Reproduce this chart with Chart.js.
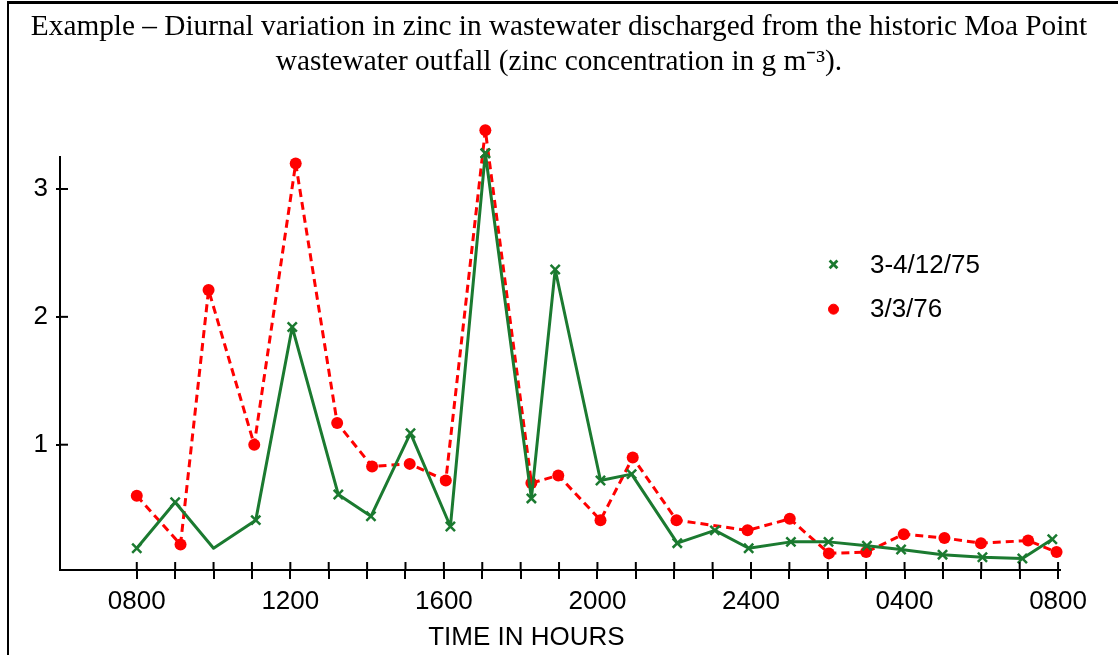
<!DOCTYPE html>
<html>
<head>
<meta charset="utf-8">
<script src="https://cdn.jsdelivr.net/npm/chart.js@4.4.1/dist/chart.umd.min.js"></script>
<style>
  html, body { margin: 0; padding: 0; background: #fff; }
  #wrap { position: relative; width: 1118px; height: 655px; overflow: hidden; }
  #frame { position: absolute; left: 7px; top: 1px; width: 1200px; height: 700px;
           border-left: 2px solid #000; border-top: 3px solid #000; }
  #zinc-chart { position: absolute; left: 0; top: 0; }
</style>
</head>
<body>
<div id="wrap">
  <div id="frame"></div>
  <canvas id="zinc-chart" width="1118" height="655"></canvas>
</div>
<script>
// Diurnal zinc in Moa Point outfall wastewater, two sampling runs
// x = clock hour counted from midnight of day 1 (so 0800 next day = 32)
const greenHours = [8.0, 9.0, 10.0, 11.1, 12.05, 13.25, 14.1, 15.13, 16.17, 17.08, 18.28, 18.9,
  20.08, 20.89, 22.08, 23.06, 23.94, 25.04, 26.02, 27.02, 27.91, 28.99, 30.03, 31.07, 31.85];
const greenZinc = [0.19, 0.55, 0.19, 0.41, 1.92, 0.61, 0.44, 1.09, 0.36, 3.28, 0.58, 2.37,
  0.72, 0.77, 0.23, 0.33, 0.19, 0.24, 0.24, 0.21, 0.18, 0.14, 0.12, 0.11, 0.26];
// third vertex of the 1975 run has no marker in the original
const greenMarked = [1, 1, 0, 1, 1, 1, 1, 1, 1, 1, 1, 1, 1, 1, 1, 1, 1, 1, 1, 1, 1, 1, 1, 1, 1];

const redHours = [8.0, 9.14, 9.87, 11.06, 12.14, 13.22, 14.13, 15.11, 16.05, 17.08, 18.28, 18.98,
  20.08, 20.92, 22.06, 23.91, 25.01, 26.03, 27.0, 27.98, 29.04, 29.99, 31.22, 31.96];
const redZinc = [0.60, 0.22, 2.21, 1.00, 3.20, 1.17, 0.83, 0.85, 0.72, 3.46, 0.70, 0.76,
  0.41, 0.90, 0.41, 0.33, 0.42, 0.15, 0.16, 0.30, 0.27, 0.23, 0.25, 0.16];

const seriesNames = ['3-4/12/75', '3/3/76'];
const tickHours = [8, 9, 10, 11, 12, 13, 14, 15, 16, 17, 18, 19, 20, 21, 22, 23, 24, 25, 26, 27, 28, 29, 30, 31, 32];
const labelHours = [8, 12, 16, 20, 24, 28, 32];
const labelTexts = ['0800', '1200', '1600', '2000', '2400', '0400', '0800'];
const yTicks = [1, 2, 3];

const GREEN = '#1b7a30';
const RED = '#ff0000';
const SANS = "'Liberation Sans', Arial, sans-serif";

(function() {
  const pts = (xs, ys) => xs.map((h, i) => ({ x: h, y: ys[i] }));

  // inward half of the crossing ticks, the x title and the in-plot legend
  const overlay = {
    id: 'overlay',
    afterDatasetsDraw(chart) {
      // points above the axis top (the 1700 peak) are skipped by Chart.js, draw them here
      const whole = { left: 0, top: 0, right: chart.width, bottom: chart.height };
      chart.data.datasets.forEach((ds, i) => {
        chart.getDatasetMeta(i).data.forEach(el => {
          if (el.y < chart.chartArea.top) el.draw(chart.ctx, whole);
        });
      });
    },
    afterDraw(chart) {
      const { ctx, chartArea: a, scales: { x, y } } = chart;
      ctx.save();
      ctx.strokeStyle = '#000';
      ctx.lineWidth = 2;
      tickHours.forEach(h => {
        const px = x.getPixelForValue(h);
        ctx.beginPath(); ctx.moveTo(px, a.bottom); ctx.lineTo(px, a.bottom - 8); ctx.stroke();
      });
      yTicks.forEach(v => {
        const py = y.getPixelForValue(v);
        ctx.beginPath(); ctx.moveTo(a.left, py); ctx.lineTo(a.left + 8, py); ctx.stroke();
      });

      ctx.fillStyle = '#000';
      ctx.font = '26px ' + SANS;
      ctx.textAlign = 'center';
      ctx.textBaseline = 'middle';
      ctx.fillText('TIME IN HOURS', x.getPixelForValue(18.15), a.bottom + 68);

      // legend
      const mx = x.getPixelForValue(26.15), tx = x.getPixelForValue(27.1);
      const rows = [
        { y: y.getPixelForValue(2.41), style: 'crossRot', r: 5.5, color: GREEN, w: 2.8 },
        { y: y.getPixelForValue(2.06), style: 'circle', r: 5, color: RED, w: 1 }
      ];
      rows.forEach((row, i) => {
        ctx.strokeStyle = row.color;
        ctx.fillStyle = row.color;
        ctx.lineWidth = row.w;
        Chart.helpers.drawPoint(ctx, { pointStyle: row.style, radius: row.r, rotation: 0, borderWidth: row.w }, mx, row.y);
        ctx.fillStyle = '#000';
        ctx.textAlign = 'left';
        ctx.fillText(seriesNames[i], tx, row.y + 1);
      });
      ctx.restore();
    }
  };

  new Chart(document.getElementById('zinc-chart'), {
    type: 'scatter',
    data: {
      datasets: [
        {
          label: seriesNames[0],
          data: pts(greenHours, greenZinc),
          showLine: true,
          clip: false,
          borderColor: GREEN,
          backgroundColor: GREEN,
          borderWidth: 3,
          borderJoinStyle: 'round',
          pointStyle: 'crossRot',
          pointRadius: greenMarked.map(m => m ? 6.5 : 0),
          pointBorderWidth: 2.5,
          tension: 0,
          order: 1
        },
        {
          label: seriesNames[1],
          data: pts(redHours, redZinc),
          showLine: true,
          clip: false,
          borderColor: RED,
          backgroundColor: RED,
          borderWidth: 3,
          borderDash: [8, 5],
          borderJoinStyle: 'round',
          pointStyle: 'circle',
          pointRadius: 6,
          pointBorderWidth: 0,
          tension: 0,
          order: 2
        }
      ]
    },
    options: {
      responsive: false,
      animation: false,
      layout: { padding: 0 },
      plugins: {
        legend: { display: false },
        tooltip: { enabled: false },
        title: {
          display: true,
          text: ['Example \u2013 Diurnal variation in zinc in wastewater discharged from the historic Moa Point',
                 'wastewater outfall (zinc concentration in g m\u207B\u00B3).'],
          color: '#000',
          font: { family: "'Liberation Serif', 'Times New Roman', serif", size: 29.3, weight: 'normal', lineHeight: 1.195 },
          padding: { top: 10, bottom: 77 }
        }
      },
      scales: {
        x: {
          type: 'linear',
          min: 6,
          max: 32.05,
          afterFit: s => { s.height = 85; },
          afterBuildTicks: s => { s.ticks = tickHours.map(v => ({ value: v })); },
          border: { display: true, color: '#000', width: 2 },
          grid: { drawOnChartArea: false, drawTicks: true, tickLength: 9, color: '#000', lineWidth: 2 },
          ticks: {
            autoSkip: false,
            maxRotation: 0,
            padding: 7,
            color: '#000',
            font: { family: SANS, size: 26 },
            callback: v => {
              const i = labelHours.indexOf(v);
              return i >= 0 ? labelTexts[i] : '';
            }
          }
        },
        y: {
          min: 0.02,
          max: 3.25,
          afterFit: s => { s.width = 60; },
          afterBuildTicks: s => { s.ticks = yTicks.map(v => ({ value: v })); },
          border: { display: true, color: '#000', width: 2 },
          grid: { drawOnChartArea: false, drawTicks: true, tickLength: 4, color: '#000', lineWidth: 2 },
          ticks: { padding: 8, color: '#000', font: { family: SANS, size: 26 } }
        },
        // empty right-hand strip so the title stays centred on the page
        pad: {
          type: 'linear',
          position: 'right',
          afterFit: s => { s.width = 58; },
          border: { display: false },
          grid: { display: false },
          ticks: { display: false }
        }
      }
    },
    plugins: [overlay]
  });
})();
</script>
</body>
</html>
